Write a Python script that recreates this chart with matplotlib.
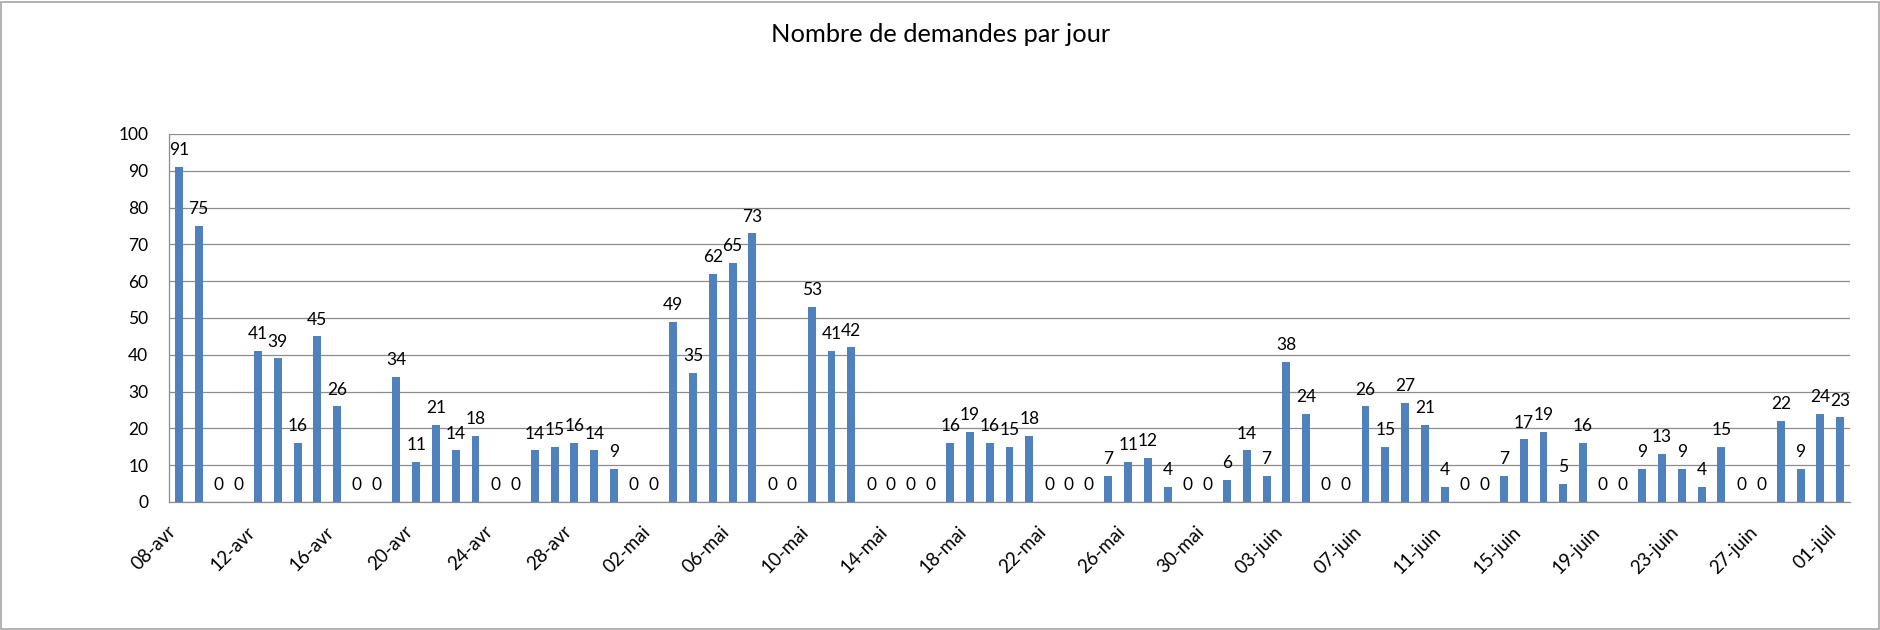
import matplotlib
matplotlib.use("Agg")
import matplotlib.pyplot as plt
from matplotlib.transforms import ScaledTranslation
import matplotlib.patches as mpatches

plt.rcParams['font.family'] = ['Lato', 'DejaVu Sans']

dates = ["08-avr", "09-avr", "10-avr", "11-avr", "12-avr", "13-avr", "14-avr", "15-avr", "16-avr",
         "17-avr", "18-avr", "19-avr", "20-avr", "21-avr", "22-avr", "23-avr", "24-avr", "25-avr",
         "26-avr", "27-avr", "28-avr", "29-avr", "30-avr", "01-mai", "02-mai", "03-mai", "04-mai",
         "05-mai", "06-mai", "07-mai", "08-mai", "09-mai", "10-mai", "11-mai", "12-mai", "13-mai",
         "14-mai", "15-mai", "16-mai", "17-mai", "18-mai", "19-mai", "20-mai", "21-mai", "22-mai",
         "23-mai", "24-mai", "25-mai", "26-mai", "27-mai", "28-mai", "29-mai", "30-mai", "31-mai",
         "01-juin", "02-juin", "03-juin", "04-juin", "05-juin", "06-juin", "07-juin", "08-juin",
         "09-juin", "10-juin", "11-juin", "12-juin", "13-juin", "14-juin", "15-juin", "16-juin",
         "17-juin", "18-juin", "19-juin", "20-juin", "21-juin", "22-juin", "23-juin", "24-juin",
         "25-juin", "26-juin", "27-juin", "28-juin", "29-juin", "30-juin", "01-juil"]

demandes = [91, 75, 0, 0, 41, 39, 16, 45, 26,
            0, 0, 34, 11, 21, 14, 18, 0, 0,
            14, 15, 16, 14, 9, 0, 0, 49, 35,
            62, 65, 73, 0, 0, 53, 41, 42, 0,
            0, 0, 0, 16, 19, 16, 15, 18, 0,
            0, 0, 7, 11, 12, 4, 0, 0, 6,
            14, 7, 38, 24, 0, 0, 26, 15,
            27, 21, 4, 0, 0, 7, 17, 19,
            5, 16, 0, 0, 9, 13, 9, 4,
            15, 0, 0, 22, 9, 24, 23]

title = "Nombre de demandes par jour"
yticks = list(range(0, 101, 10))
label_step = 4

W, H = 1881, 630
fig = plt.figure(figsize=(W / 100, H / 100), dpi=100)
fig.patch.set_facecolor("white")

# outer chart border
fig.add_artist(mpatches.Rectangle((1.5 / W, 1.5 / H), (W - 3.5) / W, (H - 3.5) / H,
                                  transform=fig.transFigure, fill=False,
                                  edgecolor="#A6A6A6", linewidth=1.2))

ax = fig.add_axes([169 / W, 128 / H, (1850 - 169) / W, (502 - 134) / H])

x = list(range(len(demandes)))
ax.bar(x, demandes, width=0.4, color="#4F81BD", zorder=3)

for xi, v in zip(x, demandes):
    ax.annotate(str(v), (xi, v), xytext=(0, 8.5), textcoords="offset points",
                ha="center", va="baseline", fontsize=12.5, color="black", zorder=4)

ax.set_xlim(-0.5, len(demandes) - 0.5)
ax.set_ylim(0, 100)
ax.set_yticks(yticks)
ax.set_yticklabels([str(t) for t in yticks], fontsize=12.5)
ax.yaxis.grid(True, color="#8C8C8C", linewidth=0.9, zorder=0)
ax.set_axisbelow(True)

# category labels, rotated 45 degrees, drawn below the axis
tick_pos = x[::label_step]
ax.set_xticks(tick_pos)
ax.set_xticklabels([])
offset = ScaledTranslation(-6 / 100, -27 / 100, fig.dpi_scale_trans)
for i in tick_pos:
    ax.text(i, 0, dates[i], transform=ax.get_xaxis_transform() + offset,
            rotation=45, rotation_mode="anchor", ha="right", va="center",
            fontsize=13.5, color="black", clip_on=False)

ax.tick_params(axis="both", length=0)
ax.tick_params(axis="y", pad=15)

for s in ["top", "right"]:
    ax.spines[s].set_visible(False)
for s in ["left", "bottom"]:
    ax.spines[s].set_color("#8C8C8C")
    ax.spines[s].set_linewidth(0.9)

fig.text(941 / W, 1 - 35 / H, title, ha="center", va="center", fontsize=18.3, color="black")

fig.savefig("out.png", dpi=100, facecolor="white")
